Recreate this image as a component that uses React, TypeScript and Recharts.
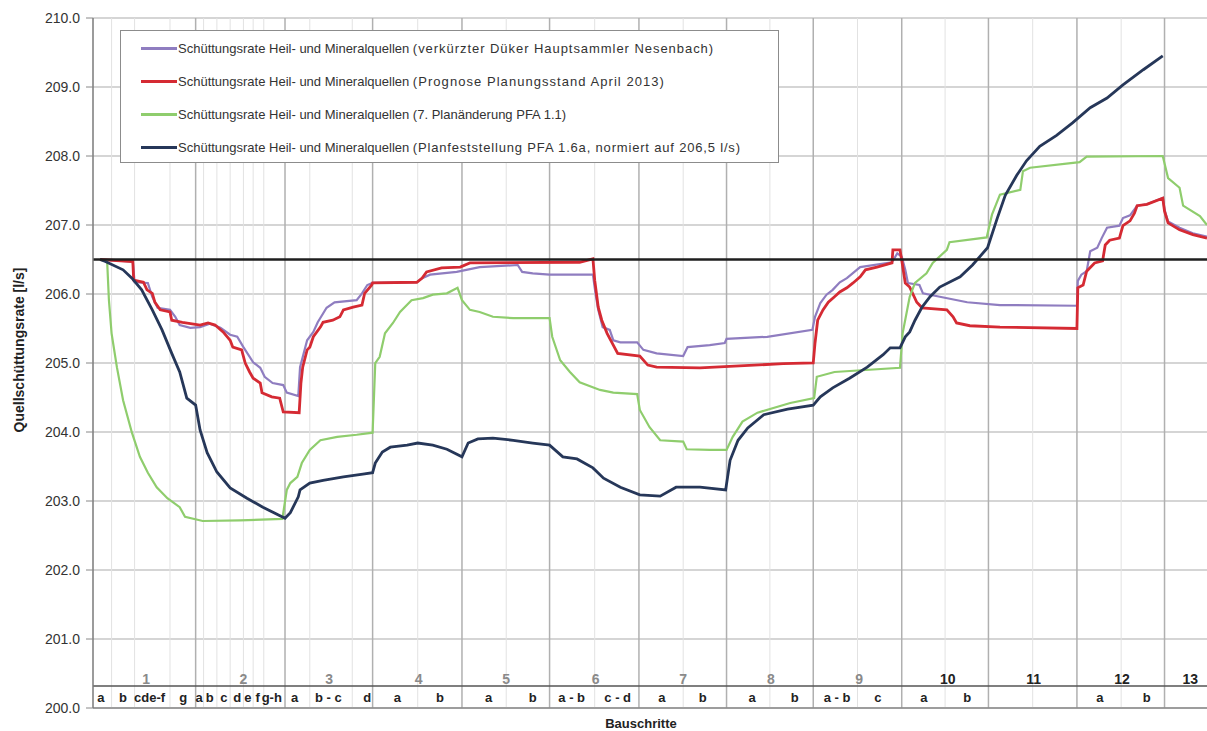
import React from 'react';
import { LineChart, Line, XAxis, YAxis, CartesianGrid, ReferenceLine, ReferenceDot, Legend, Label } from 'recharts';

const FONT = '"Liberation Sans", Arial, Helvetica, sans-serif';

const seriesPrefix = 'Schüttungsrate Heil- und Mineralquellen ';
const seriesSuffix = [
  '(verkürzter Düker Hauptsammler Nesenbach)',
  '(Prognose Planungsstand April 2013)',
  '(7. Planänderung PFA 1.1)',
  '(Planfeststellung PFA 1.6a, normiert auf 206,5 l/s)',
];
const seriesNames = seriesSuffix.map((s) => seriesPrefix + s);
const seriesColors = ['#8f7dc0', '#d52a33', '#8fcd6d', '#263759'];

// x = Bauschritt position (continuous), v = Quellschüttungsrate [l/s]
const purpleData = [[0.8,206.5],[4.5,206.47],[4.7,206.17],[6.2,206.16],[6.7,205.96],[7.3,205.8],[8.7,205.77],[9.3,205.67],[9.8,205.55],[11.0,205.51],[12.1,205.52],[13.2,205.57],[14.4,205.51],[15.5,205.41],[16.3,205.38],[17.0,205.23],[18.1,205.01],[18.9,204.93],[19.4,204.8],[20.3,204.71],[21.5,204.68],[21.9,204.57],[23.2,204.52],[23.4,204.94],[24.2,205.33],[24.9,205.45],[25.4,205.59],[26.4,205.8],[27.3,205.88],[29.8,205.91],[30.4,206.01],[31.0,206.13],[31.6,206.16],[36.6,206.17],[37.2,206.23],[38.1,206.28],[41.1,206.32],[43.7,206.39],[48.0,206.42],[48.5,206.32],[49.7,206.3],[51.6,206.28],[56.5,206.28],[56.8,206.0],[57.1,205.77],[57.6,205.52],[58.4,205.48],[58.8,205.33],[59.6,205.3],[61.5,205.3],[62.2,205.19],[63.7,205.14],[66.7,205.1],[67.2,205.23],[69.7,205.26],[71.4,205.29],[71.6,205.35],[76.2,205.38],[81.3,205.48],[81.6,205.67],[82.2,205.87],[82.9,205.99],[83.6,206.06],[84.4,206.17],[85.2,206.23],[86.7,206.39],[90.3,206.46],[90.9,206.59],[91.4,206.54],[91.8,206.35],[92.1,206.16],[93.4,206.13],[93.8,206.01],[95.7,205.96],[98.8,205.88],[102.5,205.84],[111.2,205.83],[111.3,206.19],[111.7,206.28],[112.3,206.33],[112.7,206.62],[113.5,206.67],[114.0,206.81],[114.6,206.96],[116.0,206.99],[116.4,207.1],[117.2,207.14],[118.0,207.28],[119.1,207.3],[120.9,207.39],[121.1,207.22],[121.5,207.05],[122.8,206.96],[124.3,206.88],[125.9,206.83]];

const redData = [[0.8,206.5],[4.5,206.47],[4.6,206.2],[5.7,206.17],[6.1,206.06],[6.7,206.01],[7.0,205.88],[7.6,205.77],[8.7,205.74],[8.9,205.62],[10.1,205.59],[12.1,205.55],[13.0,205.58],[13.8,205.55],[14.7,205.45],[15.5,205.33],[15.8,205.23],[16.8,205.19],[17.2,205.0],[17.7,204.87],[18.1,204.78],[18.9,204.71],[19.1,204.57],[20.2,204.51],[21.1,204.49],[21.5,204.29],[23.3,204.28],[23.5,204.71],[23.7,204.94],[24.2,205.19],[24.5,205.23],[24.9,205.38],[25.7,205.52],[26.0,205.59],[27.1,205.62],[27.9,205.67],[28.3,205.77],[29.4,205.81],[30.4,205.84],[30.7,206.01],[31.5,206.13],[31.6,206.16],[36.6,206.17],[37.2,206.23],[37.7,206.32],[39.4,206.38],[41.5,206.39],[42.6,206.45],[55.0,206.46],[56.5,206.51],[56.7,206.2],[57.1,205.81],[57.5,205.62],[58.1,205.43],[58.8,205.26],[59.3,205.14],[61.8,205.1],[62.7,204.97],[63.7,204.94],[68.6,204.93],[78.0,204.99],[81.4,205.0],[81.6,205.29],[81.9,205.62],[82.5,205.77],[83.1,205.88],[83.8,205.96],[84.4,206.03],[85.2,206.09],[85.9,206.16],[86.7,206.25],[87.3,206.35],[88.6,206.39],[90.3,206.45],[90.4,206.64],[91.2,206.64],[91.4,206.49],[91.8,206.16],[92.3,206.1],[93.1,205.88],[93.7,205.8],[96.5,205.77],[97.2,205.67],[97.6,205.58],[99.1,205.54],[102.5,205.52],[111.2,205.5],[111.3,206.09],[111.9,206.13],[112.3,206.33],[113.2,206.45],[114.1,206.48],[114.4,206.71],[114.9,206.78],[116.0,206.81],[116.4,206.99],[117.2,207.06],[117.7,207.17],[118.0,207.28],[119.1,207.3],[120.9,207.39],[121.1,207.2],[121.5,207.03],[122.8,206.93],[124.3,206.86],[125.9,206.81]];

const greenData = [[0.8,206.5],[1.6,206.47],[1.8,205.91],[2.1,205.43],[2.7,204.94],[3.4,204.46],[4.4,203.99],[5.3,203.64],[6.2,203.41],[7.2,203.2],[8.4,203.04],[9.8,202.91],[10.4,202.77],[12.4,202.71],[16.6,202.72],[21.4,202.74],[21.9,203.16],[22.3,203.26],[23.1,203.35],[23.6,203.55],[24.5,203.74],[25.7,203.88],[27.6,203.93],[29.8,203.96],[31.6,203.99],[31.9,205.0],[32.4,205.09],[33.0,205.43],[33.9,205.58],[34.7,205.74],[36.0,205.91],[37.3,205.94],[38.4,205.99],[40.0,206.01],[41.2,206.09],[41.7,205.91],[42.6,205.77],[43.7,205.74],[45.2,205.67],[47.5,205.65],[51.6,205.65],[51.9,205.38],[52.8,205.04],[53.9,204.87],[55.0,204.72],[57.3,204.61],[58.8,204.57],[61.5,204.55],[61.8,204.32],[62.9,204.07],[64.1,203.88],[66.7,203.86],[67.1,203.75],[69.7,203.74],[71.6,203.74],[72.3,203.93],[73.4,204.15],[75.1,204.28],[78.8,204.42],[81.5,204.49],[81.8,204.8],[83.8,204.87],[91.2,204.93],[91.5,205.43],[92.3,205.96],[92.9,206.16],[94.2,206.3],[94.9,206.45],[96.5,206.64],[96.8,206.75],[101.0,206.82],[101.6,207.15],[102.5,207.44],[104.8,207.51],[105.1,207.78],[105.9,207.83],[111.5,207.91],[112.3,207.99],[120.9,208.0],[121.5,207.68],[122.8,207.54],[123.2,207.28],[125.1,207.13],[125.9,207.0]];

const navyData = [[0.8,206.5],[1.4,206.47],[3.4,206.35],[4.4,206.23],[5.5,206.06],[6.7,205.77],[7.8,205.48],[8.9,205.14],[9.8,204.87],[10.6,204.49],[11.6,204.39],[12.1,204.03],[12.9,203.7],[14.0,203.42],[15.5,203.19],[17.4,203.04],[19.2,202.91],[21.7,202.75],[22.3,202.83],[23.2,203.06],[23.4,203.16],[24.5,203.26],[26.0,203.3],[28.3,203.35],[30.5,203.39],[31.6,203.41],[31.9,203.55],[32.7,203.71],[33.6,203.78],[35.5,203.81],[36.7,203.84],[38.4,203.81],[40.0,203.75],[41.7,203.64],[42.4,203.84],[43.5,203.9],[45.2,203.91],[47.5,203.88],[49.7,203.84],[51.6,203.81],[53.1,203.64],[54.7,203.61],[56.5,203.48],[57.7,203.33],[59.6,203.2],[61.8,203.09],[64.1,203.07],[65.9,203.2],[68.6,203.2],[71.5,203.16],[72.0,203.59],[72.9,203.88],[74.0,204.06],[75.8,204.25],[78.5,204.33],[81.4,204.39],[82.2,204.51],[83.6,204.64],[85.5,204.78],[87.5,204.94],[89.3,205.12],[90.1,205.22],[91.2,205.22],[91.8,205.38],[92.3,205.45],[92.9,205.62],[93.7,205.81],[94.6,205.96],[95.7,206.1],[98.0,206.25],[99.4,206.42],[101.1,206.67],[102.2,207.1],[103.1,207.43],[104.4,207.72],[105.5,207.93],[107.0,208.14],[108.9,208.3],[110.7,208.48],[112.7,208.7],[114.6,208.84],[116.4,209.03],[118.7,209.25],[120.9,209.45]];

const referenceLevel = 206.5;
const xDomain = [0, 125.9];
const yTicks = [200, 201, 202, 203, 204, 205, 206, 207, 208, 209, 210];

const groupBounds = [11.6, 21.7, 31.6, 41.7, 51.6, 61.7, 71.6, 81.4, 91.4, 101.2, 111.2, 121.1];
const subBounds = [2.1, 4.7, 8.7, 12.5, 14.0, 15.5, 17.0, 18.1, 19.3, 24.5, 29.3, 36.7, 46.7, 56.7, 66.7, 76.5, 86.4, 96.3, 106.2, 116.2];

const groupLabels = ['1', '2', '3', '4', '5', '6', '7', '8', '9', '10', '11', '12', '13'];
const groupLabelPos = [6.0, 17.0, 26.7, 36.8, 46.7, 56.8, 66.7, 76.6, 86.6, 96.6, 106.3, 116.3, 124.0];

const stepLabels = ['a','b','cde-f','g','a','b','c','d','e','f','g-h','a','b - c','d','a','b','a','b','a - b','c - d','a','b','a','b','a - b','c','a','b','a','b'];
const stepLabelPos = [0.9,3.4,6.4,10.2,12.0,13.2,14.8,16.3,17.5,18.6,20.2,22.8,26.6,31.0,34.4,39.2,44.7,49.7,54.1,59.3,64.3,68.9,74.5,79.3,84.1,88.7,93.9,98.8,113.8,119.1];

const tableTop = 200.32;
const stepRowY = 200.16;
const groupRowY = 200.42;

const toPts = (a: number[][]) => a.map(([x, v]) => ({ x, v }));
const seriesData = [purpleData, redData, greenData, navyData].map(toPts);
const refData = toPts([[xDomain[0], referenceLevel], [xDomain[1], referenceLevel]]);

const suffixSpacing = [0.95, 1.05, 0, 0.82];
const lineWidths = [2.2, 2.8, 2.2, 2.8];

const LegendBox = () => (
  <div style={{ width: 659, height: 133, border: '1px solid #8c8c8c', background: '#fff', boxSizing: 'border-box', position: 'relative', fontFamily: FONT }}>
    {seriesSuffix.map((s, i) => (
      <div key={i} style={{ position: 'absolute', left: 20, top: 17 + i * 33 - 9, height: 18, display: 'flex', alignItems: 'center', whiteSpace: 'nowrap' }}>
        <span style={{ display: 'inline-block', width: 36, height: 3, background: seriesColors[i] }} />
        <span style={{ fontSize: 13, color: '#333', marginLeft: 1 }}>
          {seriesPrefix}
          <span style={{ letterSpacing: suffixSpacing[i] }}>{s}</span>
        </span>
      </div>
    ))}
  </div>
);

export default function App() {
  return (
    <div style={{ position: 'absolute', left: 0, top: 0, width: 1207, height: 731, background: '#fff', fontFamily: FONT }}>
      <LineChart width={1207} height={731} margin={{ top: 18, right: 0, bottom: 0, left: 0 }}>
        <CartesianGrid horizontal={true} vertical={false} stroke="#ababab" />
        {subBounds.map((b, i) => (
          <ReferenceLine key={'s' + i} x={b} stroke="#e2e2e2" strokeWidth={1} />
        ))}
        {groupBounds.map((b, i) => (
          <ReferenceLine key={'g' + i} x={b} stroke="#b0b0b0" strokeWidth={1.5} />
        ))}
        <ReferenceLine y={tableTop} stroke="#555" strokeWidth={1.5} />
        <XAxis type="number" dataKey="x" domain={xDomain} allowDataOverflow ticks={[]} tick={false} tickLine={false}
          axisLine={{ stroke: '#8a8a8a', strokeWidth: 1.5 }} height={23}>
          <Label content={(props: any) => {
            const vb = props.viewBox || { x: 93, y: 708, width: 1114 };
            return (
              <text x={vb.x + vb.width / 2 - 9} y={vb.y + 20} textAnchor="middle" fontWeight="bold" fontSize={13} fill="#222" fontFamily={FONT}>Bauschritte</text>
            );
          }} />
        </XAxis>
        <YAxis type="number" domain={[200, 210]} ticks={yTicks} allowDataOverflow width={93}
          tickFormatter={(v: number) => v.toFixed(1)} tick={{ fill: '#333', fontSize: 14 }}
          tickSize={7} tickMargin={6} tickLine={{ stroke: '#888' }} axisLine={{ stroke: '#7a7a7a', strokeWidth: 1.5 }}>
          <Label content={() => (
            <text x={19} y={350} transform="rotate(-90 19 350)" textAnchor="middle" dominantBaseline="central" fontWeight="bold" fontSize={14} fill="#222" fontFamily={FONT}>Quellschüttungsrate [l/s]</text>
          )} />
        </YAxis>
        {groupLabels.map((t, i) => (
          <ReferenceDot key={'gl' + i} x={groupLabelPos[i]} y={groupRowY} r={0} fill="none" stroke="none"
            label={{ value: t, position: 'center', fill: i < 9 ? '#8a8a8a' : '#222', fontSize: 14, fontWeight: 'bold' }} />
        ))}
        {stepLabels.map((t, i) => (
          <ReferenceDot key={'sl' + i} x={stepLabelPos[i]} y={stepRowY} r={0} fill="none" stroke="none"
            label={{ value: t, position: 'center', fill: '#222', fontSize: 13, fontWeight: 'bold' }} />
        ))}
        {seriesData.map((d, i) => (
          <Line key={i} data={d} dataKey="v" name={seriesNames[i]} type="linear" stroke={seriesColors[i]}
            strokeWidth={lineWidths[i]} dot={false} activeDot={false} isAnimationActive={false} />
        ))}
        <Line data={refData} dataKey="v" name="Referenz 206,5 l/s" legendType="none" type="linear" stroke="#1e1e1e"
          strokeWidth={2.5} dot={false} activeDot={false} isAnimationActive={false} />
        <Legend layout="horizontal" verticalAlign="middle" align="center" content={() => <LegendBox />}
          wrapperStyle={{ left: 120, top: 30, width: 659, height: 133 }} />
      </LineChart>
    </div>
  );
}
